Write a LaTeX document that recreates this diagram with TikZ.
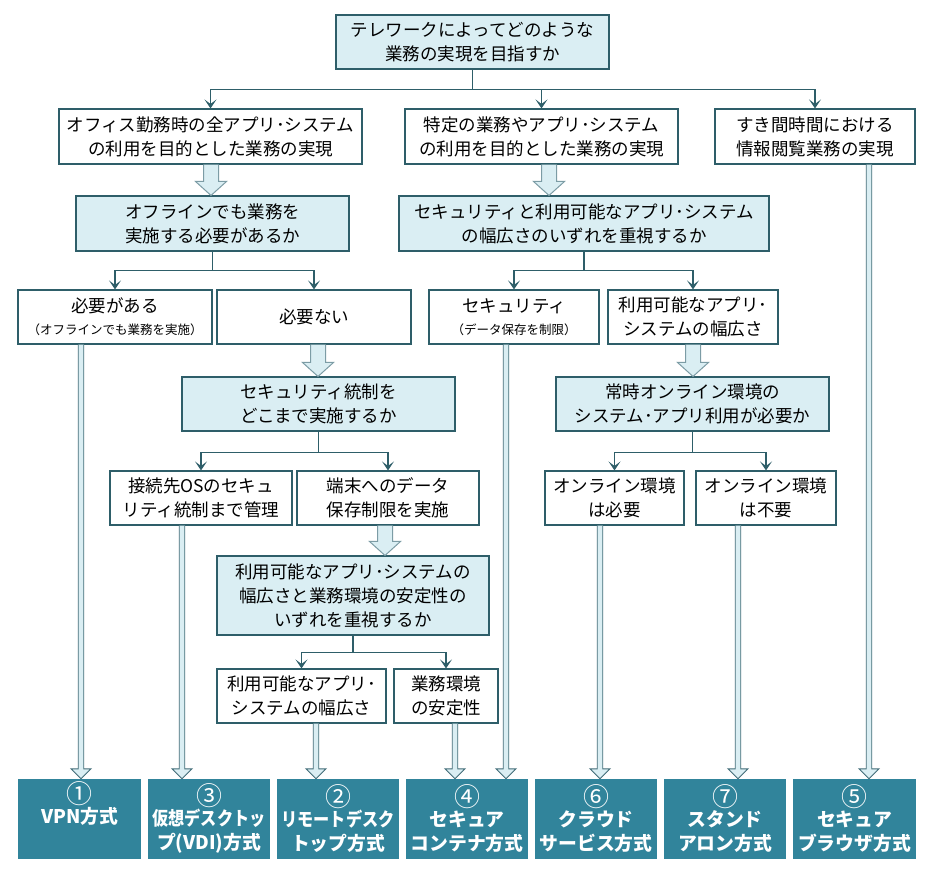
\documentclass[tikz,border=0pt]{standalone}
\usepackage{fontspec}
\setmainfont{Noto Sans CJK JP}
\usetikzlibrary{arrows.meta,calc}
\definecolor{bline}{HTML}{2E5E69}
\definecolor{lfill}{HTML}{DAEEF3}
\definecolor{tealbox}{HTML}{31849B}
\definecolor{aline}{HTML}{7C9CA5}
\tikzset{
 base/.style={draw=bline, line width=1.1pt, inner sep=0pt, align=center, font=\fontsize{17.5}{24}\selectfont, text=black},
 wbox/.style={base, fill=white},
 qbox/.style={base, fill=lfill},
 rbox/.style={fill=tealbox, inner sep=0pt, align=center, text=white, font=\bfseries\fontsize{18.8}{24.5}\selectfont, minimum width=122pt, minimum height=80pt},
 conn/.style={draw=bline, line width=1.2pt},
 arr/.style={conn, -{Stealth[length=9pt,width=12pt,inset=4.5pt]}},
 fatst/.style={draw=aline, fill=lfill, line width=1pt, line join=miter},
 thinst/.style={draw=bline!75!aline, fill=lfill, line width=0.9pt, line join=miter},
}
\newcommand\blockarrow[7]{\path[#1] let \p1=(#3.south), \p2=(#4.north) in
 ({#2pt-#5pt},\y1) -- ({#2pt-#5pt},{\y2+#7pt}) -- ({#2pt-#6pt},{\y2+#7pt}) -- (#2pt,\y2) -- ({#2pt+#6pt},{\y2+#7pt}) -- ({#2pt+#5pt},{\y2+#7pt}) -- ({#2pt+#5pt},\y1);}
\newcommand\sq[1]{\scalebox{0.86}[1]{#1}}
\newcommand\cn[1]{\raisebox{-5pt}[16pt][2.3pt]{\scalebox{1.38}{\mdseries #1}}}
\begin{document}
\begin{tikzpicture}[x=1pt,y=-1pt]
\useasboundingbox (0,0) rectangle (936,871);
\fill[white] (0,0) rectangle (936,871);
% boxes
\node[qbox, minimum width=273pt, minimum height=54pt] (T) at (472.5,42) {テレワークによってどのような\\業務の実現を目指すか};
\node[wbox, minimum width=303pt, minimum height=55pt] (A) at (210.5,136.5) {オフィス勤務時の全アプリ･システム\\の利用を目的とした業務の実現};
\node[wbox, minimum width=273pt, minimum height=55pt] (B) at (541.5,136.5) {特定の業務やアプリ･システム\\の利用を目的とした業務の実現};
\node[wbox, minimum width=200pt, minimum height=55pt] (C) at (815,136.5) {すき間時間における\\情報閲覧業務の実現};
\node[qbox, minimum width=273pt, minimum height=55pt] (D) at (212.5,223.5) {オフラインでも業務を\\実施する必要があるか};
\node[qbox, minimum width=370pt, minimum height=55pt] (E) at (584,223.5) {セキュリティと利用可能なアプリ･システム\\の幅広さのいずれを重視するか};
\node[wbox, minimum width=194pt, minimum height=54pt] (F) at (115,317) {必要がある\\[-2pt]{\fontsize{12.5}{16}\selectfont （オフラインでも業務を実施）}};
\node[wbox, minimum width=194pt, minimum height=54pt] (G) at (314,317) {必要ない};
\node[wbox, minimum width=170pt, minimum height=54pt] (H) at (514,317) {セキュリティ\\[-2pt]{\fontsize{12.5}{16}\selectfont （データ保存を制限）}};
\node[wbox, minimum width=170pt, minimum height=54pt] (I) at (693,317) {利用可能なアプリ･\\システムの幅広さ};
\node[qbox, minimum width=273pt, minimum height=54pt] (J) at (318.5,404) {セキュリティ統制を\\どこまで実施するか};
\node[qbox, minimum width=273pt, minimum height=54pt] (K) at (692.5,404) {常時オンライン環境の\\システム･アプリ利用が必要か};
\node[wbox, minimum width=182pt, minimum height=54pt] (L) at (201,498) {接続先OSのセキュ\\リティ統制まで管理};
\node[wbox, minimum width=182pt, minimum height=54pt] (M) at (388,498) {端末へのデータ\\保存制限を実施};
\node[wbox, minimum width=139pt, minimum height=54pt] (N) at (614.5,498) {オンライン環境\\は必要};
\node[wbox, minimum width=140pt, minimum height=54pt] (O) at (766,498) {オンライン環境\\は不要};
\node[qbox, minimum width=272pt, minimum height=79pt] (P) at (353,595.5) {利用可能なアプリ･システムの\\幅広さと業務環境の安定性の\\いずれを重視するか};
\node[wbox, minimum width=169pt, minimum height=54pt] (Q) at (301.5,696) {利用可能なアプリ･\\システムの幅広さ};
\node[wbox, minimum width=104pt, minimum height=54pt] (R) at (446,696) {業務環境\\の安定性};
% result boxes
\node[rbox, minimum width=123pt] (b1) at (79.5,819) {\cn{①}\\VPN方式\\\strut};
\node[rbox] (b3) at (209,819) {\cn{③}\\\sq{仮想デスクトッ}\\プ(VDI)方式};
\node[rbox] (b2) at (338,819) {\cn{②}\\\sq{リモートデスク}\\トップ方式};
\node[rbox] (b4) at (467,819) {\cn{④}\\セキュア\\コンテナ方式};
\node[rbox] (b6) at (596,819) {\cn{⑥}\\クラウド\\サービス方式};
\node[rbox] (b7) at (725,819) {\cn{⑦}\\スタンド\\アロン方式};
\node[rbox, minimum width=123pt] (b5) at (854.5,819) {\cn{⑤}\\セキュア\\ブラウザ方式};
% connectors
\coordinate (t1) at ($(T.south)+(0,20)$);
\draw[conn] (T.south) -- (t1);
\draw[arr] (t1) -| (A.north);
\draw[arr] (t1) -| (B.north);
\draw[arr] (t1) -| (C.north);
\coordinate (d1) at ($(D.south)+(0,19)$);
\draw[conn] (D.south) -- (d1);
\draw[arr] (d1) -| (F.north);
\draw[arr] (d1) -| (G.north);
\coordinate (e1) at ($(E.south)+(0,19)$);
\draw[conn] (E.south) -- (e1);
\draw[arr] (e1) -| (H.north);
\draw[arr] (e1) -| (I.north);
\coordinate (j1) at ($(J.south)+(0,21)$);
\draw[conn] (J.south) -- (j1);
\draw[arr] (j1) -| (L.north);
\draw[arr] (j1) -| (M.north);
\coordinate (k1) at ($(K.south)+(0,21)$);
\draw[conn] (K.south) -- (k1);
\draw[arr] (k1) -| (N.north);
\draw[arr] (k1) -| (O.north);
\coordinate (p1) at ($(P.south)+(0,17)$);
\draw[conn] (P.south) -- (p1);
\draw[arr] (p1) -| (Q.north);
\draw[arr] (p1) -| (R.north);
% block arrows
\blockarrow{fatst}{211}{A}{D}{7.5}{15.5}{14}
\blockarrow{fatst}{549}{B}{E}{7.5}{15.5}{14}
\blockarrow{fatst}{318}{G}{J}{7.5}{15.5}{14}
\blockarrow{fatst}{693}{I}{K}{7.5}{15.5}{14}
\blockarrow{fatst}{385}{M}{P}{7.5}{15.5}{14}
% long arrows
\blockarrow{thinst}{81}{F}{b1}{2.75}{10}{10}
\blockarrow{thinst}{182}{L}{b3}{2.75}{10}{10}
\blockarrow{thinst}{316}{Q}{b2}{2.75}{10}{10}
\blockarrow{thinst}{455}{R}{b4}{2.75}{10}{10}
\blockarrow{thinst}{506}{H}{b4}{2.75}{10}{10}
\blockarrow{thinst}{600}{N}{b6}{2.75}{10}{10}
\blockarrow{thinst}{738}{O}{b7}{2.75}{10}{10}
\blockarrow{thinst}{869}{C}{b5}{2.75}{10}{10}
\end{tikzpicture}
\end{document}
